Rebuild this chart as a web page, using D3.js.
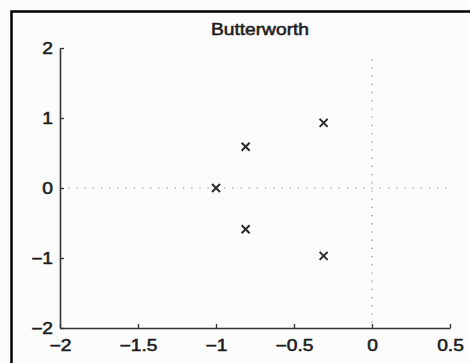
<!DOCTYPE html>
<html>
<head>
<meta charset="utf-8">
<script src="https://cdn.jsdelivr.net/npm/d3@7"></script>
<style>
  html, body { margin: 0; padding: 0; background: #ffffff; }
  svg { display: block; }
  .lbl { font-family: "Liberation Sans", Arial, sans-serif; font-size: 16px; fill: #1e1e1e; stroke: #1e1e1e; stroke-width: 0.55px; }
  .wide { transform-box: fill-box; transform-origin: center; transform: scaleX(1.2); }
  .wideR { transform-box: fill-box; transform-origin: right center; transform: scaleX(1.2); }
</style>
</head>
<body>
<div id="chart"></div>
<script>
// poles
const poleRe = [-1.0, -0.81, -0.81, -0.31, -0.31]
const poleIm = [0.0, 0.59, -0.59, 0.93, -0.97]
const xTicks = [-2, -1.5, -1, -0.5, 0, 0.5]
const yTicks = [-2, -1, 0, 1, 2]
const title = "Butterworth"

const width = 470, height = 363

const svg = d3.select("#chart").append("svg")
    .attr("width", width)
    .attr("height", height)

svg.append("rect")
    .attr("width", width).attr("height", height)
    .attr("fill", "#fcfcfc")

// scanned frame, only left and top visible
svg.append("path")
    .attr("d", `M11.5,${height} V11.5 H${width}`)
    .attr("fill", "none")
    .attr("stroke", "#000")
    .attr("stroke-width", 2.5)

const x = d3.scaleLinear().domain([-2, 0.5]).range([60, 450])
const y = d3.scaleLinear().domain([-2, 2]).range([328, 48])
const fmt = d3.format("~g")

// dotted reference lines
svg.append("line")
    .attr("x1", x(-2)).attr("x2", x(0.48))
    .attr("y1", y(0)).attr("y2", y(0))
    .attr("stroke", "#8a8a8a").attr("stroke-width", 1.2)
    .attr("stroke-dasharray", "1.2,7")
svg.append("line")
    .attr("x1", x(0)).attr("x2", x(0))
    .attr("y1", y(1.84)).attr("y2", y(-2))
    .attr("stroke", "#8a8a8a").attr("stroke-width", 1.2)
    .attr("stroke-dasharray", "1.2,7")

const xAxis = svg.append("g")
    .attr("transform", `translate(0,${y(-2)})`)
    .call(d3.axisBottom(x).tickValues(xTicks).tickFormat(fmt).tickSizeInner(-4).tickSizeOuter(0).tickPadding(12))
const yAxis = svg.append("g")
    .attr("transform", `translate(${x(-2)},0)`)
    .call(d3.axisLeft(y).tickValues(yTicks).tickFormat(fmt).tickSizeInner(-4).tickSizeOuter(0).tickPadding(7))

for (const g of [xAxis, yAxis]) {
    g.select(".domain").attr("stroke", "#333").attr("stroke-width", 1.6)
    g.selectAll(".tick line").attr("stroke", "#333").attr("stroke-width", 1.3)
    g.selectAll("text").attr("class", "lbl")
        .attr("font-family", null).attr("font-size", null).attr("fill", null)
}
xAxis.selectAll("text").classed("wide", true)
yAxis.selectAll("text").classed("wideR", true)

// title
svg.append("text")
    .attr("class", "lbl wide")
    .attr("x", 260).attr("y", 35)
    .attr("text-anchor", "middle")
    .text(title)

// pole markers
const poles = poleRe.map((re, i) => ({re, im: poleIm[i]}))
const s = 4
svg.append("g")
    .selectAll("path")
    .data(poles)
    .enter()
    .append("path")
    .attr("d", d => {
        const cx = x(d.re), cy = y(d.im)
        return `M${cx - s},${cy - s}L${cx + s},${cy + s}M${cx - s},${cy + s}L${cx + s},${cy - s}`
    })
    .attr("stroke", "#2a2a2a")
    .attr("stroke-width", 2)
    .attr("fill", "none")
</script>
</body>
</html>
